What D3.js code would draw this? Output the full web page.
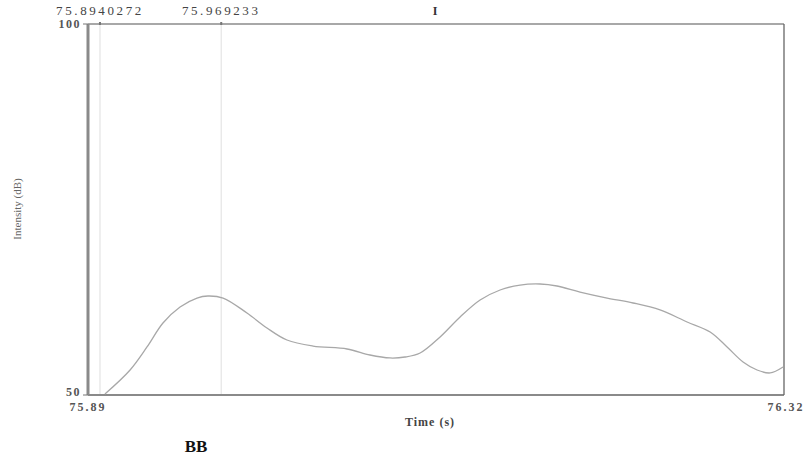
<!DOCTYPE html>
<html><head><meta charset="utf-8">
<script src="https://cdn.jsdelivr.net/npm/d3@7"></script>
<style>body{margin:0;background:#fff}svg{display:block}text{font-family:"Liberation Serif","DejaVu Serif",serif}</style>
</head><body><svg id="c" width="810" height="459"></svg>
<script>
const times = [75.8971,75.9127,75.9232,75.9331,75.9437,75.9542,75.9610,75.9704,75.9852,75.9976,76.0100,76.0262,76.0473,76.0615,76.0739,76.0832,76.0926,76.1050,76.1174,76.1298,76.1422,76.1546,76.1670,76.1775,76.1918,76.2086,76.2247,76.2414,76.2582,76.2725,76.2830,76.2929,76.3016,76.3097,76.3177];
const intensity = [50.13,53.37,56.47,59.70,61.86,63.07,63.34,63.07,61.05,59.03,57.41,56.60,56.20,55.39,54.99,55.12,55.66,57.82,60.51,62.80,64.15,64.82,64.96,64.69,63.88,63.07,62.40,61.46,59.84,58.49,56.47,54.45,53.37,52.97,53.77];
const cursorTimes = [75.8940272, 75.969233];
const cursorLabels = ["75.8940272", "75.969233"];
const xDomain = [75.8866, 76.3183];
const xTickLabels = ["75.89", "76.32"];
const yDomain = [50, 100];
const yTickLabels = ["50", "100"];

const svg = d3.select("#c");
const L = 88, R = 784, T = 24, B = 395;
const x = d3.scaleLinear().domain(xDomain).range([L, R]);
const y = d3.scaleLinear().domain(yDomain).range([B, T]);

// cursor lines
svg.selectAll(".cur").data(cursorTimes).enter().append("line")
  .attr("x1", d => x(d)).attr("x2", d => x(d)).attr("y1", T).attr("y2", B)
  .attr("stroke", "#e4e4e4").attr("stroke-width", 1.2);

// frame
svg.append("line").attr("x1", L).attr("x2", R).attr("y1", T).attr("y2", T).attr("stroke", "#a8a8a8").attr("stroke-width", 2);
svg.append("line").attr("x1", L).attr("x2", R).attr("y1", B).attr("y2", B).attr("stroke", "#8a8a8a").attr("stroke-width", 2);
svg.append("line").attr("x1", R).attr("x2", R).attr("y1", T).attr("y2", B).attr("stroke", "#666").attr("stroke-width", 1.3);
svg.append("line").attr("x1", L).attr("x2", L).attr("y1", T).attr("y2", B).attr("stroke", "#8a8a8a").attr("stroke-width", 3);

// cursor tick dots on top axis
svg.selectAll(".dot").data(cursorTimes).enter().append("rect")
  .attr("x", d => x(d) - 1).attr("y", T - 2).attr("width", 2).attr("height", 3).attr("fill", "#777");
// y tick marks
svg.selectAll(".yt").data(yDomain).enter().append("line")
  .attr("x1", L - 5).attr("x2", L).attr("y1", d => y(d)).attr("y2", d => y(d)).attr("stroke", "#777").attr("stroke-width", 1);

// curve
const line = d3.line().x((d, i) => x(times[i])).y(d => y(d)).curve(d3.curveCatmullRom);
svg.append("path").datum(intensity).attr("d", line).attr("fill", "none").attr("stroke", "#a8a8a8").attr("stroke-width", 1.3);

// labels
svg.selectAll(".cl").data(cursorTimes).enter().append("text")
  .attr("x", d => x(d)).attr("y", 15).attr("text-anchor", "middle")
  .attr("font-size", 13).attr("letter-spacing", 2.6).attr("fill", "#444").text((d, i) => cursorLabels[i]);
svg.append("text").attr("x", 435).attr("y", 15).attr("text-anchor", "middle").attr("font-size", 12).attr("font-weight", "bold").attr("fill", "#333").text("I");

svg.selectAll(".yl").data(yDomain).enter().append("text")
  .attr("x", L - 7).attr("y", (d, i) => y(d) + (i === 0 ? 1 : 4)).attr("text-anchor", "end")
  .attr("font-size", 12).attr("letter-spacing", 1.5).attr("font-weight", "bold").attr("fill", "#555").text((d, i) => yTickLabels[i]);

svg.append("text").attr("x", x(xDomain[0])).attr("y", 411).attr("text-anchor", "middle").attr("font-size", 12).attr("letter-spacing", 2).attr("font-weight", "bold").attr("fill", "#555").text(xTickLabels[0]);
svg.append("text").attr("x", x(xDomain[1]) + 2).attr("y", 411).attr("text-anchor", "middle").attr("font-size", 12).attr("letter-spacing", 2).attr("font-weight", "bold").attr("fill", "#555").text(xTickLabels[1]);

svg.append("text").attr("x", 430).attr("y", 426).attr("text-anchor", "middle").attr("font-size", 12).attr("letter-spacing", 1).attr("font-weight", "bold").attr("fill", "#444").text("Time (s)");
svg.append("text").attr("transform", "translate(21,209) rotate(-90)").attr("text-anchor", "middle").attr("font-size", 11).attr("fill", "#666").text("Intensity (dB)");

svg.append("text").attr("x", 196).attr("y", 452).attr("text-anchor", "middle").attr("font-size", 17).attr("font-weight", "bold").attr("fill", "#111").text("BB");
</script></body></html>
